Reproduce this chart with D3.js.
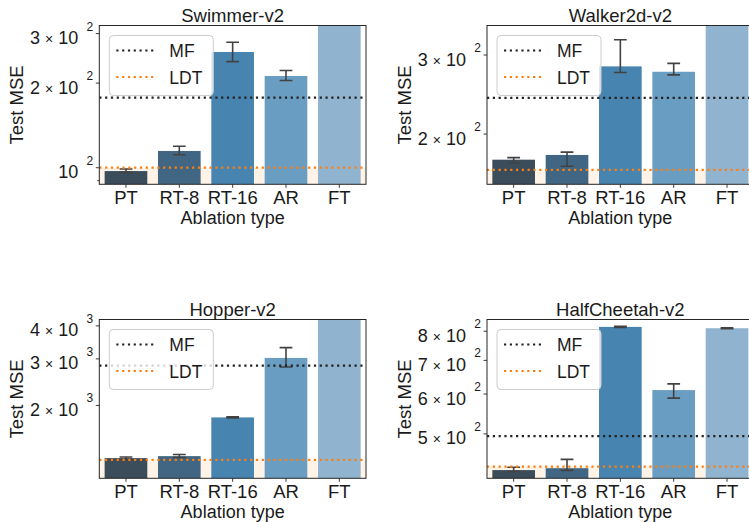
<!DOCTYPE html>
<meta charset="utf-8">
<style>
body { margin: 0; background: #fff; }
text { font-family: "Liberation Sans", Arial, sans-serif; fill: #1a1a1a; }
</style>
<svg width="749" height="522"></svg>
<script src="https://d3js.org/d3.v7.min.js"></script>
<script>

var categories = ["PT", "RT-8", "RT-16", "AR", "FT"];
var barColors = ["#3b4c5b", "#416683", "#4884b0", "#6a9dc2", "#90b4cf"];

// Swimmer-v2
var swimmerMean = [97.3, 114.7, 258, 212, 420];
var swimmerLo   = [96.4, 111.2, 238.5, 204.3, 400];
var swimmerHi   = [99.0, 119.2, 279.6, 221.8, 440];
var swimmerMF = 177.6, swimmerLDT = 100;
var swimmerYlim = [87.3, 320.6];
var swimmerTicks = [90, 100, 200, 300];
var swimmerTickLabels = ["", "10", "2 × 10", "3 × 10"];

// Walker2d-v2
var walkerMean = [175.4, 179.7, 283.0, 275.3, 400];
var walkerLo   = [172.6, 169.6, 274.3, 270.9, 380];
var walkerHi   = [177.3, 182.3, 324.4, 287.4, 420];
var walkerMF = 240.9, walkerLDT = 166.4;
var walkerYlim = [154.6, 349.0];
var walkerTicks = [200, 300];
var walkerTickLabels = ["2 × 10", "3 × 10"];

// Hopper-v2
var hopperMean = [1264, 1286, 1802, 3026, 5000];
var hopperLo   = [1252, 1271, 1794, 2795, 4800];
var hopperHi   = [1277, 1305, 1810, 3311, 5200];
var hopperMF = 2831, hopperLDT = 1245;
var hopperYlim = [1060, 4229];
var hopperTicks = [2000, 3000, 4000];
var hopperTickLabels = ["2 × 10", "3 × 10", "4 × 10"];

// HalfCheetah-v2
var cheetahMean = [423.6, 427.3, 815.9, 611, 811];
var cheetahLo   = [420.8, 423.1, 814.0, 589, 809];
var cheetahHi   = [429.3, 445.0, 818.0, 628.7, 813];
var cheetahMF = 494.7, cheetahLDT = 430.5;
var cheetahYlim = [408, 844];
var cheetahTicks = [500, 600, 700, 800];
var cheetahTickLabels = ["5 × 10", "6 × 10", "7 × 10", "8 × 10"];

var panels = [
  {title: "Swimmer-v2", mean: swimmerMean, lo: swimmerLo, hi: swimmerHi, mf: swimmerMF, ldt: swimmerLDT,
   ylim: swimmerYlim, ticks: swimmerTicks, labels: swimmerTickLabels, exp: "2", left: 99.3, top: 25.5},
  {title: "Walker2d-v2", mean: walkerMean, lo: walkerLo, hi: walkerHi, mf: walkerMF, ldt: walkerLDT,
   ylim: walkerYlim, ticks: walkerTicks, labels: walkerTickLabels, exp: "2", left: 487, top: 25.5},
  {title: "Hopper-v2", mean: hopperMean, lo: hopperLo, hi: hopperHi, mf: hopperMF, ldt: hopperLDT,
   ylim: hopperYlim, ticks: hopperTicks, labels: hopperTickLabels, exp: "3", left: 99.3, top: 319.5},
  {title: "HalfCheetah-v2", mean: cheetahMean, lo: cheetahLo, hi: cheetahHi, mf: cheetahMF, ldt: cheetahLDT,
   ylim: cheetahYlim, ticks: cheetahTicks, labels: cheetahTickLabels, exp: "2", left: 487, top: 319.5}
];

var W = 266.7, H = 158.8;
var spine = "#262626";

var svg = d3.select("svg");
svg.append("rect").attr("width", 749).attr("height", 522).attr("fill", "#fff");

panels.forEach(function(p, pi) {
  var x0 = p.left, y0 = p.top;
  var x = d3.scaleBand().domain(categories).range([x0, x0 + W]).paddingInner(0.2).paddingOuter(0.1);
  var y = d3.scaleLog().domain(p.ylim).range([y0 + H, y0]);

  var clipId = "clip" + pi;
  svg.append("clipPath").attr("id", clipId)
    .append("rect").attr("x", x0).attr("y", y0).attr("width", W).attr("height", H);

  var g = svg.append("g").attr("clip-path", "url(#" + clipId + ")");

  // shaded band below LDT
  g.append("rect")
      .attr("x", x0).attr("width", W)
      .attr("y", y(p.ldt)).attr("height", y0 + H - y(p.ldt))
      .attr("fill", "#fff2e7");

  // bars
  g.selectAll(".bar").data(categories).enter().append("rect")
      .attr("x", function(d) { return x(d); })
      .attr("width", x.bandwidth())
      .attr("y", function(d, i) { return y(p.mean[i]); })
      .attr("height", function(d, i) { return y0 + H - y(p.mean[i]); })
      .attr("fill", function(d, i) { return barColors[i]; });

  // error bars
  var cap = 6.4;
  categories.forEach(function(c, i) {
    var cx = x(c) + x.bandwidth() / 2;
    var eb = g.append("g").attr("stroke", "#424242").attr("stroke-width", 1.6);
    eb.append("line").attr("x1", cx).attr("x2", cx).attr("y1", y(p.lo[i])).attr("y2", y(p.hi[i]));
    eb.append("line").attr("x1", cx - cap).attr("x2", cx + cap).attr("y1", y(p.lo[i])).attr("y2", y(p.lo[i]));
    eb.append("line").attr("x1", cx - cap).attr("x2", cx + cap).attr("y1", y(p.hi[i])).attr("y2", y(p.hi[i]));
  });

  // reference lines
  g.append("line").attr("x1", x0).attr("x2", x0 + W).attr("y1", y(p.mf)).attr("y2", y(p.mf))
      .attr("stroke", "#222").attr("stroke-width", 2.2).attr("stroke-dasharray", "2.2,3.6");
  g.append("line").attr("x1", x0).attr("x2", x0 + W).attr("y1", y(p.ldt)).attr("y2", y(p.ldt))
      .attr("stroke", "#ff7f0e").attr("stroke-width", 2.2).attr("stroke-dasharray", "2.2,3.6");

  // frame
  svg.append("rect").attr("x", x0).attr("y", y0).attr("width", W).attr("height", H)
      .attr("fill", "none").attr("stroke", spine).attr("stroke-width", 1);

  // y ticks
  p.ticks.forEach(function(t, i) {
    var ty = y(t);
    svg.append("line").attr("x1", x0).attr("x2", x0 - (p.labels[i] ? 3.5 : 2))
        .attr("y1", ty).attr("y2", ty).attr("stroke", spine).attr("stroke-width", 0.9);
    if (!p.labels[i]) return;
    var parts = p.labels[i].split(" × ");
    var tx = svg.append("text").attr("x", x0 - 21).attr("y", ty + 10.5)
        .attr("text-anchor", "end").style("font-size", "18px");
    if (parts.length > 1) {
      tx.append("tspan").text(parts[0] + " ");
      tx.append("tspan").style("font-size", "14px").text("×");
      tx.append("tspan").text(" " + parts[1]);
    } else {
      tx.text(parts[0]);
    }
    svg.append("text").attr("x", x0 - 6).attr("y", ty - 3)
        .attr("text-anchor", "end").style("font-size", "12px").text(p.exp);
  });

  // x ticks
  categories.forEach(function(c) {
    var cx = x(c) + x.bandwidth() / 2;
    svg.append("line").attr("x1", cx).attr("x2", cx).attr("y1", y0 + H).attr("y2", y0 + H + 3.5)
        .attr("stroke", spine).attr("stroke-width", 0.9);
    svg.append("text").attr("x", cx).attr("y", y0 + H + 19.5)
        .attr("text-anchor", "middle").style("font-size", "18.5px").text(c);
  });

  // titles and labels
  svg.append("text").attr("x", x0 + W / 2).attr("y", y0 - 4)
      .attr("text-anchor", "middle").style("font-size", "18.5px").text(p.title);
  svg.append("text").attr("x", x0 + W / 2).attr("y", y0 + H + 40)
      .attr("text-anchor", "middle").style("font-size", "18px").text("Ablation type");
  svg.append("text")
      .attr("transform", "translate(" + (x0 - 76) + "," + (y0 + H / 2) + ") rotate(-90)")
      .attr("text-anchor", "middle").style("font-size", "18.5px").text("Test MSE");

  // legend
  var lx = x0 + 10, ly = y0 + 10;
  var lg = svg.append("g").attr("transform", "translate(" + lx + "," + ly + ")");
  lg.append("rect").attr("width", 104).attr("height", 60).attr("rx", 4)
      .attr("fill", "#fff").attr("fill-opacity", 0.8).attr("stroke", "#cccccc").attr("stroke-width", 1);
  var items = [{name: "MF", color: "#222"}, {name: "LDT", color: "#ff7f0e"}];
  items.forEach(function(it, i) {
    var iy = 15 + i * 26.5;
    lg.append("line").attr("x1", 7).attr("x2", 45).attr("y1", iy).attr("y2", iy)
        .attr("stroke", it.color).attr("stroke-width", 2.2).attr("stroke-dasharray", "2.2,3.6");
    lg.append("text").attr("x", 60).attr("y", iy + 6.5).style("font-size", "17.5px").text(it.name);
  });
});

</script>
